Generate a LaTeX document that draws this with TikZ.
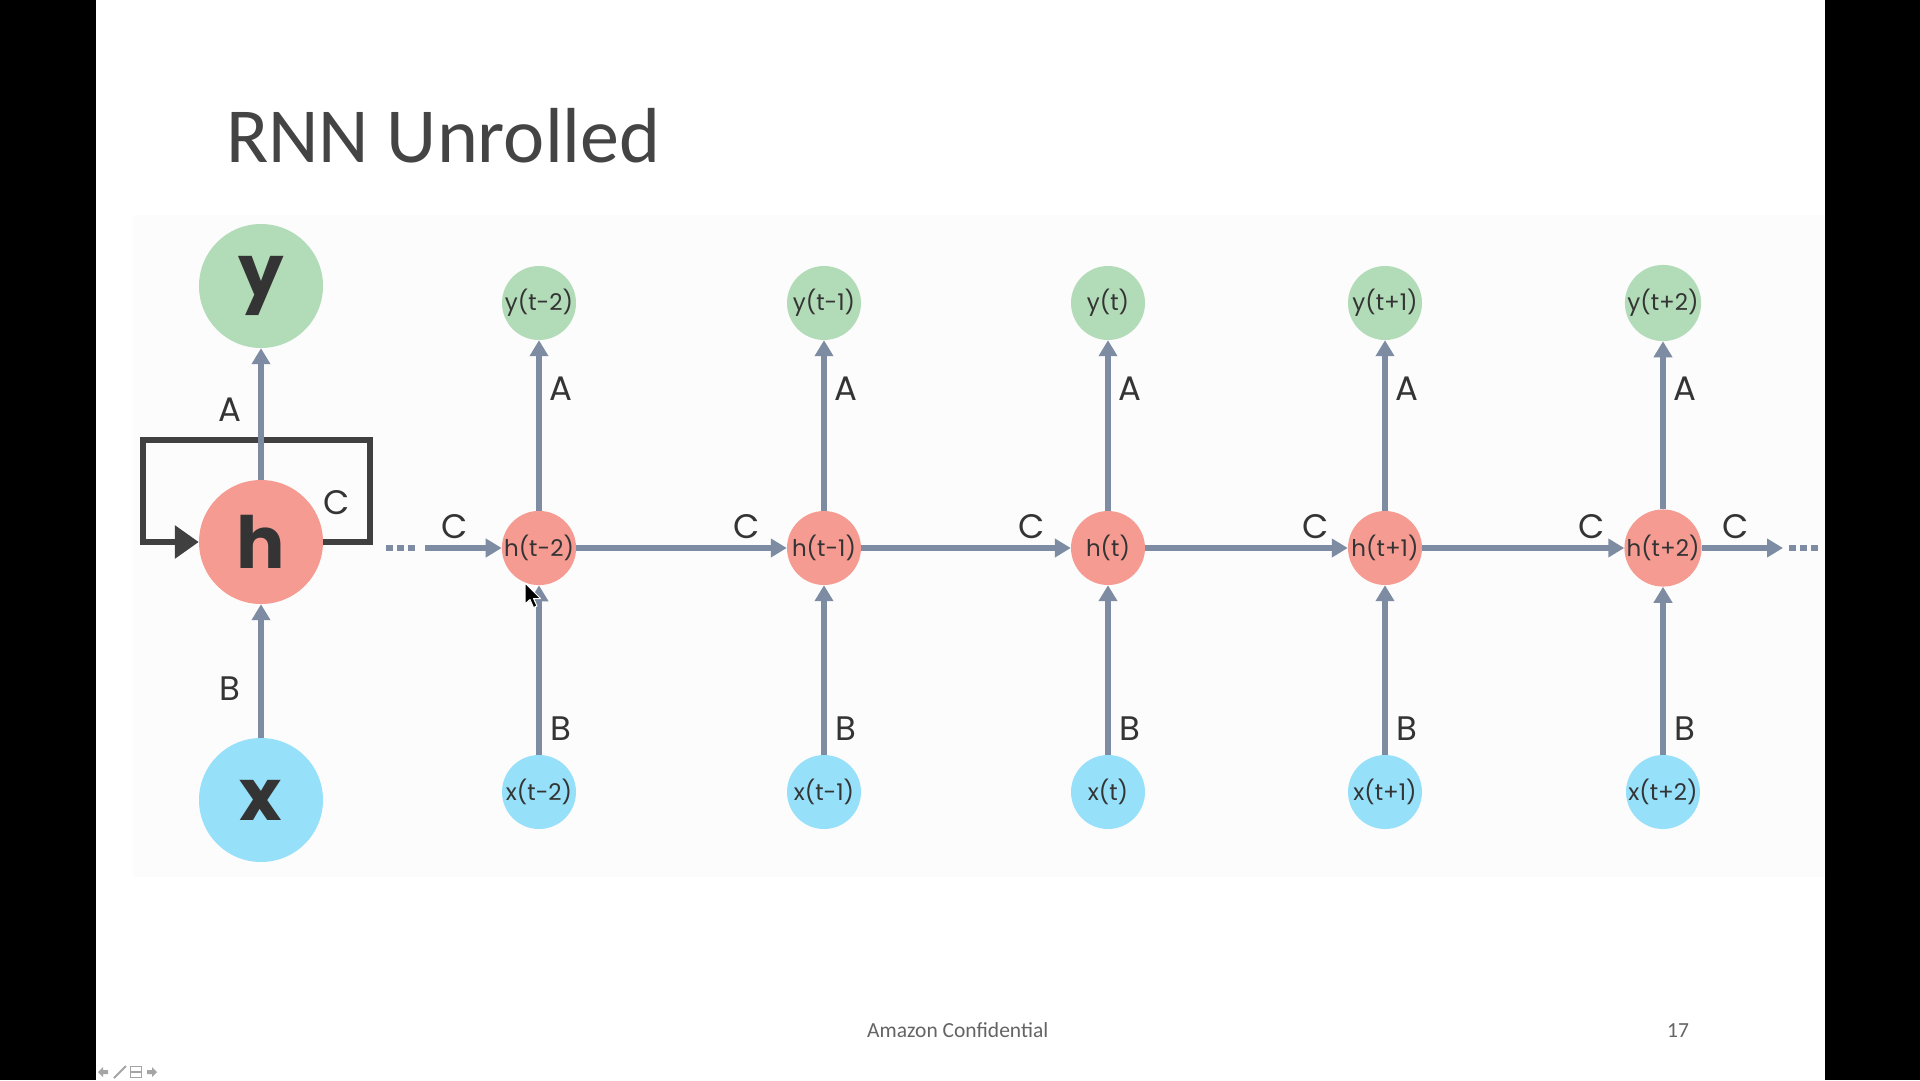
\documentclass[tikz,border=0pt]{standalone}
\usepackage{fontspec}
\setmainfont{Carlito}
\newfontfamily\diagfont{Poppins}
\usetikzlibrary{arrows.meta}

\definecolor{arrowc}{RGB}{125,140,162}
\definecolor{loopc}{RGB}{64,64,64}
\definecolor{txt}{RGB}{52,52,52}
\definecolor{ygreen}{RGB}{178,219,183}
\definecolor{hred}{RGB}{246,155,146}
\definecolor{xblue}{RGB}{150,224,250}
\definecolor{panel}{RGB}{252,252,252}
\definecolor{titlec}{RGB}{68,68,68}
\definecolor{footc}{RGB}{100,100,100}
\definecolor{iconc}{RGB}{165,165,165}

\tikzset{
  big/.style={circle, minimum size=124pt, inner sep=0pt, text=txt,
    font=\diagfont\bfseries\fontsize{72}{72}\selectfont},
  small/.style={circle, minimum size=74pt, inner sep=0pt, text=txt,
    font=\diagfont\fontsize{23}{23}\selectfont},
  link/.style={draw=arrowc, line width=5.5pt, -{Triangle[length=16pt,width=18pt]}},
  dots/.style={draw=arrowc, line width=5.5pt, dash pattern=on 7pt off 4pt},
  lbl/.style={text=txt, inner sep=0pt, font=\diagfont\fontsize{34}{34}\selectfont},
  foot/.style={anchor=base west, inner sep=0pt, text=footc, font=\fontsize{21.5}{21.5}\selectfont},
}

\begin{document}
\begin{tikzpicture}[x=1pt,y=-1pt]
\useasboundingbox (0,0) rectangle (1920,1080);
% slide on a black screen
\fill[black] (0,0) rectangle (1920,1080);
\fill[white] (96,0) rectangle (1825,1080);
\fill[panel] (133,215) rectangle (1825,877);

% title
\node[anchor=base west, inner sep=0pt, text=titlec, font=\fontsize{78}{78}\selectfont]
  (title) at (226,162) {RNN Unrolled};

% folded network
\node[big, fill=ygreen] (Y) at (261,286) {y};
\node[big, fill=hred]   (H) at (261,542) {h};
\node[big, fill=xblue]  (X) at (261,800) {x};
\draw[loopc, line width=6pt, line join=miter, -{Triangle[length=24pt,width=32pt]}]
  (H.east) -- (370,542) -- (370,440) -- (143,440) -- (143,542) -- (H.west);
\draw[link] (H) -- (Y);
\draw[link] (X) -- (H);
\node[lbl] (LA) at (230,410) {A};
\node[lbl] (LB) at (230,689) {B};
\node[lbl] (LC) at (337,503) {C};

% unrolled network
\foreach \i/\cx/\t in {1/539/t-2, 2/824/t-1, 3/1108/t, 4/1385/t+1, 5/1663/t+2} {
  \node[small, fill=ygreen] (y\i) at (\cx,303) {y(\t)};
  \node[small, fill=hred]   (h\i) at (\cx,548) {h(\t)};
  \node[small, fill=xblue]  (x\i) at (\cx,792) {x(\t)};
  \draw[link] (h\i) -- (y\i);
  \draw[link] (x\i) -- (h\i);
  \node[lbl] (a\i) at (\cx+22,389) {A};
  \node[lbl] (b\i) at (\cx+22,729) {B};
}
\foreach \a/\b in {1/2, 2/3, 3/4, 4/5} {
  \draw[link] (h\a) -- (h\b);
}
\foreach \k/\cx in {0/455, 1/747, 2/1032, 3/1316, 4/1592, 5/1736} {
  \node[lbl] (c\k) at (\cx,527) {C};
}

% incoming and outgoing state
\coordinate (inA) at (386,548);
\coordinate (inB) at (418,548);
\coordinate (inS) at (425,548);
\draw[dots] (inA) -- (inB);
\draw[link] (inS) -- (h1);
\coordinate (outE) at (1783,548);
\coordinate (outA) at (1789,548);
\coordinate (outB) at (1821,548);
\draw[link] (h5) -- (outE);
\draw[dots] (outA) -- (outB);

% mouse pointer
\fill[black, draw=white, line width=1pt, line join=round]
  (525,583) -- ++(0,21) -- ++(5,-4.5) -- ++(3.5,8) -- ++(3.5,-1.5)
  -- ++(-3.5,-7.5) -- ++(7,0) -- cycle;

% footer
\node[foot] (conf) at (867,1037) {Amazon Confidential};
\node[foot] (page) at (1667,1037) {17};

% presenter controls
\fill[iconc] (98,1072) -- (103,1067) -- (103,1070) -- (108,1070) -- (108,1074) -- (103,1074) -- (103,1077) -- cycle;
\draw[iconc, line width=2pt] (114,1078) -- (126,1066);
\draw[iconc, line width=1.5pt] (130.5,1066.5) rectangle (141.5,1077.5);
\draw[iconc, line width=1.5pt] (130.5,1072) -- (141.5,1072);
\fill[iconc] (157,1072) -- (152,1067) -- (152,1070) -- (147,1070) -- (147,1074) -- (152,1074) -- (152,1077) -- cycle;
\end{tikzpicture}
\end{document}
